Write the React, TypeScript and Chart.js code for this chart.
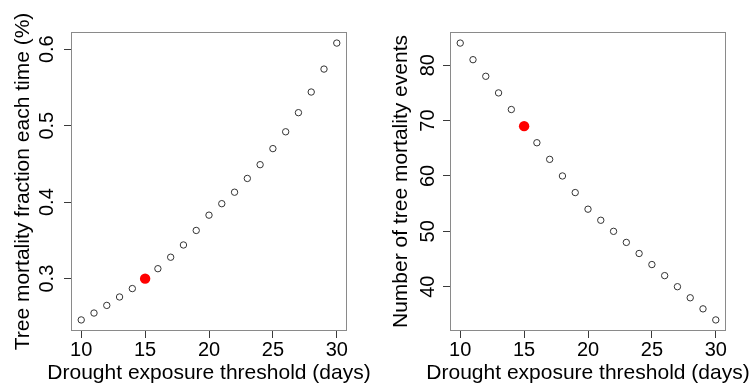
import React, { useEffect, useRef } from "react";
import { Chart, registerables } from "chart.js";

Chart.register(...registerables);

// ---- data ----
const thresholdDays = [10, 11, 12, 13, 14, 15, 16, 17, 18, 19, 20, 21, 22, 23, 24, 25, 26, 27, 28, 29, 30];
const mortalityFraction = [
  0.246, 0.255, 0.265, 0.276, 0.287, 0.3, 0.313, 0.328, 0.344, 0.363, 0.383,
  0.398, 0.413, 0.431, 0.449, 0.47, 0.492, 0.517, 0.544, 0.574, 0.608,
];
const mortalityEvents = [84, 81, 78, 75, 72, 69, 66, 63, 60, 57, 54, 52, 50, 48, 46, 44, 42, 40, 38, 36, 34];
const highlightDay = 15;
const xTickValues = [10, 15, 20, 25, 30];
const fractionTicks = [0.3, 0.4, 0.5, 0.6];
const eventTicks = [40, 50, 60, 70, 80];
const xTitle = "Drought exposure threshold (days)";
const leftYTitle = "Tree mortality fraction each time (%)";
const rightYTitle = "Number of tree mortality events";

const FONT = "'Liberation Sans', Arial, Helvetica, sans-serif";

function paddedRange(vals: number[]) {
  const lo = Math.min(...vals);
  const hi = Math.max(...vals);
  const ext = (hi - lo) * 0.04;
  return [lo - ext, hi + ext];
}

const boxPlugin = {
  id: "rbox",
  afterDraw(chart: any) {
    const { ctx, chartArea: a } = chart;
    ctx.save();
    ctx.strokeStyle = "#8a8a8a";
    ctx.lineWidth = 1;
    const l = Math.round(a.left) + 0.5;
    const t = Math.round(a.top) + 0.5;
    const r = Math.round(a.right) - 0.5;
    const b = Math.round(a.bottom) - 0.5;
    ctx.strokeRect(l, t, r - l, b - t);
    ctx.restore();
  },
};

// axis titles drawn without width compression (R lets them overflow the plot box)
function makeTitlePlugin(xText: string, yText: string, yTitleX: number) {
  return {
    id: "rtitles",
    afterDraw(chart: any) {
      const { ctx, chartArea: a } = chart;
      ctx.save();
      ctx.font = `21px ${FONT}`;
      ctx.fillStyle = "#000";
      ctx.textAlign = "center";
      ctx.textBaseline = "middle";
      ctx.fillText(xText, (a.left + a.right) / 2, chart.height - 14);
      ctx.translate(yTitleX, (a.top + a.bottom) / 2);
      ctx.rotate(-Math.PI / 2);
      ctx.fillText(yText, 0, 0);
      ctx.restore();
    },
  };
}

type PanelProps = {
  ys: number[];
  yTicks: number[];
  yTitle: string;
  width: number;
  height: number;
  yAxisWidth: number;
  padRight: number;
  yTitleX: number;
};

function Panel({ ys, yTicks, yTitle, width, height, yAxisWidth, padRight, yTitleX }: PanelProps) {
  const ref = useRef<HTMLCanvasElement | null>(null);
  useEffect(() => {
    if (!ref.current) return;
    const [xmin, xmax] = paddedRange(thresholdDays);
    const [ymin, ymax] = paddedRange(ys);
    const pts = thresholdDays.map((d, i) => ({ x: d, y: ys[i] }));
    const normal = pts.filter((p) => p.x !== highlightDay);
    const hi = pts.filter((p) => p.x === highlightDay);
    const tickColor = "#3a3a3a";
    const chart = new Chart(ref.current, {
      type: "scatter",
      data: {
        datasets: [
          {
            data: hi,
            pointRadius: 5.2,
            pointBackgroundColor: "#ff0000",
            pointBorderColor: "#ff0000",
            pointBorderWidth: 0,
          },
          {
            data: normal,
            pointRadius: 3.2,
            pointBackgroundColor: "rgba(255,255,255,0)",
            pointBorderColor: "#333333",
            pointBorderWidth: 1,
          },
        ],
      },
      options: {
        animation: false,
        responsive: false,
        devicePixelRatio: 1,
        layout: { padding: { top: 32, right: padRight, left: 0, bottom: 0 } },
        plugins: { legend: { display: false }, tooltip: { enabled: false } },
        scales: {
          x: {
            type: "linear",
            min: xmin,
            max: xmax,
            afterBuildTicks: (s: any) => {
              s.ticks = xTickValues.map((v) => ({ value: v }));
            },
            afterFit: (s: any) => {
              s.height = 56;
            },
            border: { display: false },
            grid: { drawOnChartArea: false, drawTicks: true, tickLength: 7, color: tickColor },
            ticks: {
              color: "#000",
              padding: 0,
              font: { family: FONT, size: 20 },
              callback: (v: any) => String(v),
              maxRotation: 0,
              autoSkip: false,
            },
            title: { display: false },
          },
          y: {
            type: "linear",
            min: ymin,
            max: ymax,
            afterBuildTicks: (s: any) => {
              s.ticks = yTicks.map((v) => ({ value: v }));
            },
            afterFit: (s: any) => {
              s.width = yAxisWidth;
            },
            border: { display: false },
            grid: { drawOnChartArea: false, drawTicks: true, tickLength: 7, color: tickColor },
            ticks: {
              color: "#000",
              padding: 3,
              crossAlign: "center",
              minRotation: 90,
              maxRotation: 90,
              font: { family: FONT, size: 20 },
              callback: (v: any) => String(v),
              autoSkip: false,
            },
            title: { display: false },
          },
        },
      } as any,
      plugins: [boxPlugin, makeTitlePlugin(xTitle, yTitle, yTitleX)],
    });
    return () => chart.destroy();
  }, []);
  return <canvas ref={ref} width={width} height={height} style={{ display: "block", width, height }} />;
}

export default function App() {
  return (
    <div style={{ position: "fixed", left: 0, top: 0, width: 753, height: 387, background: "#fff" }}>
      <div style={{ position: "absolute", left: 0, top: 0 }}>
        <Panel
          ys={mortalityFraction}
          yTicks={fractionTicks}
          yTitle={leftYTitle}
          width={376}
          height={387}
          yAxisWidth={71}
          padRight={29}
          yTitleX={23}
        />
      </div>
      <div style={{ position: "absolute", left: 376, top: 0 }}>
        <Panel
          ys={mortalityEvents}
          yTicks={eventTicks}
          yTitle={rightYTitle}
          width={377}
          height={387}
          yAxisWidth={74}
          padRight={27}
          yTitleX={25}
        />
      </div>
    </div>
  );
}
